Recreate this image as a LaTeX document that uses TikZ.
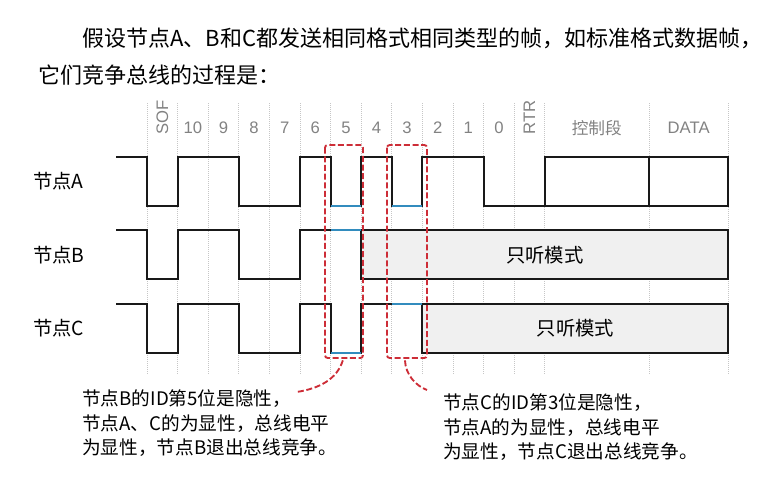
\documentclass[tikz,border=0pt]{standalone}
\usepackage{fontspec}
\setmainfont{Noto Sans CJK SC}
\newfontfamily\labfont{Liberation Sans}
\usepackage{xcolor}
\definecolor{gridgray}{RGB}{200,200,200}
\definecolor{labgray}{RGB}{130,130,130}
\definecolor{wireblue}{RGB}{50,140,190}
\definecolor{arbred}{RGB}{205,45,55}
\definecolor{listengray}{RGB}{240,240,240}

\begin{document}
\begin{tikzpicture}[x=22.95pt,y=18.375pt,
  wave/.style={line width=1.5pt,black!90},
  recessive/.style={line width=1.5pt,wireblue},
  listen/.style={line width=1.5pt,black!90,fill=listengray},
  arbbox/.style={line width=1.4pt,arbred,dash pattern=on 4.5pt off 2pt,rounded corners=2pt},
  gridline/.style={gray!45,line width=0.5pt,densely dotted},
  bitlabel/.style={labgray,font=\labfont\fontsize{12.5}{14}\selectfont},
  nodelabel/.style={anchor=west,inner sep=0pt,font=\fontsize{14.5}{16}\selectfont},
  note/.style={anchor=north west,inner sep=0pt,align=left,font=\fontsize{14}{18.4}\selectfont}]
  \useasboundingbox (-4.804,6.408) rectangle (20.686,-13.673);

  \node[anchor=west,inner sep=0pt,font=\fontsize{16.5}{20}\selectfont] (title1) at (-2.124,4.857) {假设节点A、B和C都发送相同格式相同类型的帧，如标准格式数据帧，};
  \node[anchor=west,inner sep=0pt,font=\fontsize{16.5}{20}\selectfont] (title2) at (-3.562,3.347) {它们竞争总线的过程是：};

  \foreach \x in {0,...,13,16.4,19}
    \draw[gridline] (\x,2.2) -- (\x,-8.85);
  \node[bitlabel,rotate=90] (sof) at (0.5,1.63) {SOF};
  \foreach \b [count=\i] in {10,9,...,0}
    \node[bitlabel] (id\b) at (\i+0.5,1.18) {\b};
  \node[bitlabel,rotate=90] (rtr) at (12.5,1.63) {RTR};
  \node[bitlabel,font=\fontsize{12.5}{14}\selectfont] (ctrl) at (14.7,1.18) {控制段};
  \node[bitlabel] (data) at (17.7,1.18) {DATA};

  \node[nodelabel] (nodeA) at (-3.725,-1) {节点A};
  \node[nodelabel] (nodeB) at (-3.725,-4) {节点B};
  \node[nodelabel] (nodeC) at (-3.725,-7) {节点C};

  \draw[wave] (-1,0) --++ (1,0) --++ (0,-2) --++ (1,0) --++ (0,2) --++ (2,0) --++ (0,-2) --++ (2,0) --++ (0,2)
    --++ (1,0) --++ (0,-2) --++ (1,0) --++ (0,2) --++ (1,0) --++ (0,-2) --++ (1,0) --++ (0,2) --++ (2,0) --++ (0,-2) --++ (2,0);
  \draw[wave] (13,0) rectangle (19,-2) (16.4,0) -- (16.4,-2);
  \draw[recessive] (6,-2) -- (7,-2) (8,-2) -- (9,-2);

  \draw[listen] (7,-3) rectangle (19,-5) node[midway,black,font=\fontsize{14.5}{16}\selectfont] (listenB) {只听模式};
  \draw[wave] (-1,-3) --++ (1,0) --++ (0,-2) --++ (1,0) --++ (0,2) --++ (2,0) --++ (0,-2) --++ (2,0) --++ (0,2) -- (7,-3);
  \draw[recessive] (6,-3) -- (7,-3);

  \draw[listen] (9,-6) rectangle (19,-8) node[midway,black,font=\fontsize{14.5}{16}\selectfont] (listenC) {只听模式};
  \draw[wave] (-1,-6) --++ (1,0) --++ (0,-2) --++ (1,0) --++ (0,2) --++ (2,0) --++ (0,-2) --++ (2,0) --++ (0,2)
    --++ (1,0) --++ (0,-2) --++ (1,0) --++ (0,2) -- (9,-6);
  \draw[recessive] (6,-8) -- (7,-8) (8,-6) -- (9,-6);

  \draw[arbbox] (5.817,0.49) rectangle (7.059,-8.204);
  \draw[arbbox] (7.843,0.49) rectangle (9.150,-8.204);
  \coordinate (lostB) at (6.40,-8.30);
  \coordinate (lostC) at (8.43,-8.30);

  \node[note] (noteB) at (-2.124,-9.50) {节点B的ID第5位是隐性，\\节点A、C的为显性，总线电平\\为显性，节点B退出总线竞争。};
  \node[note] (noteC) at (9.673,-9.66) {节点C的ID第3位是隐性，\\节点A的为显性，总线电平\\为显性，节点C退出总线竞争。};

  \draw[arbbox] (lostB) .. controls (6.2,-9.1) and (5.6,-9.45) .. (4.90,-9.59);
  \draw[arbbox] (lostC) .. controls (8.45,-8.9) and (8.8,-9.35) .. (9.15,-9.51);
\end{tikzpicture}
\end{document}
